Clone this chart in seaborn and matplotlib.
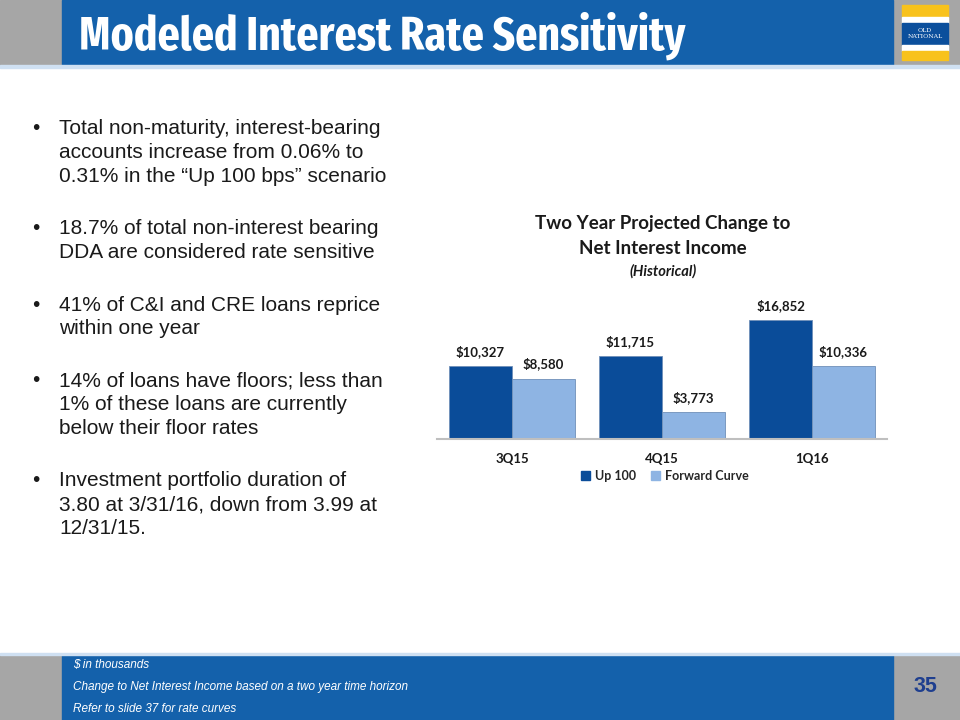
import pandas as pd
import numpy as np
import matplotlib.pyplot as plt
import seaborn as sns
from matplotlib.patches import Rectangle
from matplotlib import font_manager
from matplotlib.font_manager import FontProperties

quarters = ['3Q15', '4Q15', '1Q16']
up_100 = [10327, 11715, 16852]
forward_curve = [8580, 3773, 10336]
series_names = ['Up 100', 'Forward Curve']

bullets = [
    ['Total non-maturity, interest-bearing', 'accounts increase from 0.06% to',
     '0.31% in the \u201cUp 100 bps\u201d scenario'],
    ['18.7% of total non-interest bearing', 'DDA are considered rate sensitive'],
    ['41% of C&I and CRE loans reprice', 'within one year'],
    ['14% of loans have floors; less than', '1% of these loans are currently',
     'below their floor rates'],
    ['Investment portfolio duration of', '3.80 at 3/31/16, down from 3.99 at', '12/31/15.'],
]
footnotes = ['$ in thousands',
             'Change to Net Interest Income based on a two year time horizon',
             'Refer to slide 37 for rate curves']

df = pd.DataFrame({
    'quarter': quarters * 2,
    'value': up_100 + forward_curve,
    'series': [series_names[0]] * 3 + [series_names[1]] * 3,
})

sns.set_theme(style='white')
plt.rcParams['font.family'] = ['Liberation Sans', 'DejaVu Sans']

# look for a narrow bold face for the slide title
files = [f.fname for f in font_manager.fontManager.ttflist]
def pick(keys, avoid=()):
    for k in keys:
        for f in files:
            name = f.replace(' ', '')
            if k in name and not any(a in name for a in avoid):
                return f
    return None

title_file = pick(['LiberationSansNarrow-Bold.', 'ExtraCondensed-Bold.', 'ExtraCondensedBold.',
                   'Condensed-Bold.', 'CondensedBold.'], avoid=('Serif',))
title_fp = FontProperties(fname=title_file) if title_file else FontProperties(family='Liberation Sans', weight='bold')

dark = '#0a4c99'
light = '#8eb4e3'
band = '#1461ab'
gray = '#a6a6a6'

fig = plt.figure(figsize=(9.6, 7.2), dpi=100)
W, H = 960, 720

def px(x, y):
    return x / W, 1 - y / H

# header and footer bands
fig.patches.append(Rectangle((0, 1 - 65 / H), 1, 65 / H, transform=fig.transFigure, color=gray, zorder=0))
fig.patches.append(Rectangle((62 / W, 1 - 65 / H), (893 - 62) / W, 65 / H, transform=fig.transFigure, color=band, zorder=1))
fig.patches.append(Rectangle((0, 1 - 68 / H), 1, 3 / H, transform=fig.transFigure, color='#cfe0f2', zorder=1))
fig.patches.append(Rectangle((0, 0), 1, 65 / H, transform=fig.transFigure, color=gray, zorder=0))
fig.patches.append(Rectangle((62 / W, 0), (893 - 62) / W, 65 / H, transform=fig.transFigure, color=band, zorder=1))
fig.patches.append(Rectangle((0, 65 / H), 1, 2 / H, transform=fig.transFigure, color='#cfe0f2', zorder=1))

# logo
for y0, h, c in [(5, 12, '#f8c21c'), (17, 6, 'white'), (23, 22, '#0b4f9c'), (45, 6, 'white'), (51, 9, '#f8c21c')]:
    fig.patches.append(Rectangle((902 / W, 1 - (y0 + h) / H), 46 / W, h / H,
                                 transform=fig.transFigure, color=c, zorder=2))
fig.text(*px(925, 30), 'OLD', color='white', fontsize=4.5, family='DejaVu Serif', ha='center', va='center')
fig.text(*px(925, 37), 'NATIONAL', color='white', fontsize=4.5, family='DejaVu Serif', ha='center', va='center')

title_fp.set_size(34)
title = fig.text(*px(79, 36), 'Modeled Interest Rate Sensitivity', color='white',
                 fontproperties=title_fp, ha='left', va='center')
# keep the title within the width it has on the slide
renderer = fig.canvas.get_renderer()
tw = title.get_window_extent(renderer).width
if tw > 620:
    title_fp.set_size(34 * 614 / tw)
    title.set_fontproperties(title_fp)

for i, line in enumerate(footnotes):
    fig.text(*px(73, 665 + 22 * i), line, color='white', fontsize=8.5, style='italic',
             ha='left', va='center')
fig.text(*px(925, 687), '35', color='#1f3f8f', fontsize=15.5, fontweight='bold', ha='center', va='center')

# bullet text
y = 129
for block in bullets:
    fig.text(*px(32, y), '\u2022', color='#1a1a1a', fontsize=15, ha='left', va='center')
    for line in block:
        fig.text(*px(59, y), line, color='#1a1a1a', fontsize=15, ha='left', va='center')
        y += 24
    y += 28

# chart
ax = fig.add_axes([437 / W, 1 - 439 / H, 450 / W, 141 / H])
sns.barplot(data=df, x='quarter', y='value', hue='series', palette=[dark, light], saturation=1,
            width=0.84, edgecolor='#6f8fb8', linewidth=0.6, ax=ax, legend=False)
ax.set_ylim(0, 20000)
ax.set_xlim(-0.5, 2.5)
for cont in ax.containers:
    ax.bar_label(cont, labels=[f'${v:,.0f}' for v in cont.datavalues], padding=6,
                 fontsize=9.5, fontweight='bold', family='Lato', color='#1a1a1a')
ax.set_yticks([])
ax.set_xlabel('')
ax.set_ylabel('')
ax.tick_params(axis='x', length=0, pad=10)
for t in ax.get_xticklabels():
    t.set_fontsize(9.5)
    t.set_fontweight('bold')
    t.set_family('Lato')
    t.set_color('#1a1a1a')
for s in ['top', 'left', 'right']:
    ax.spines[s].set_visible(False)
ax.spines['bottom'].set_color('#bfbfbf')
ax.spines['bottom'].set_linewidth(1.5)

handles = [Rectangle((0, 0), 1, 1, color=dark), Rectangle((0, 0), 1, 1, color=light)]
fig.legend(handles, series_names, loc='center', bbox_to_anchor=px(665, 476), ncol=2, frameon=False,
           handlelength=0.7, handleheight=0.7, handletextpad=0.4, columnspacing=1.2,
           prop={'family': 'Lato', 'weight': 'bold', 'size': 9})

fig.text(*px(663, 224), 'Two Year Projected Change to', fontsize=13.5, fontweight='bold',
         family='Lato', ha='center', va='center', color='#1a1a1a')
fig.text(*px(663, 249), 'Net Interest Income', fontsize=13.5, fontweight='bold',
         family='Lato', ha='center', va='center', color='#1a1a1a')
fig.text(*px(663, 271), '(Historical)', fontsize=10.5, fontweight='bold', style='italic',
         family='Lato', ha='center', va='center', color='#1a1a1a')

fig.savefig('out.png', dpi=100)
